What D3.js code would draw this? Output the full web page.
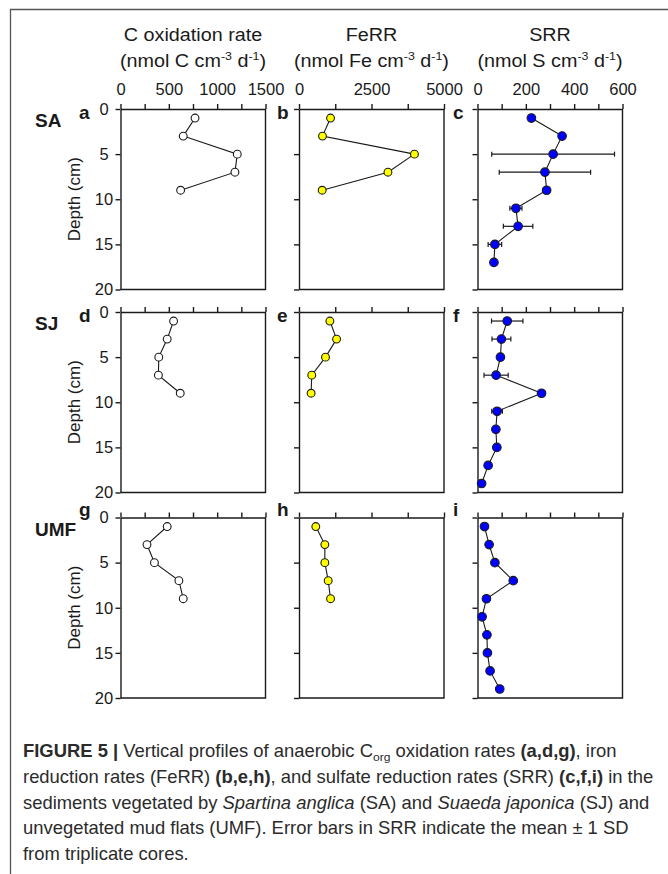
<!DOCTYPE html>
<html>
<head>
<meta charset="utf-8">
<script src="https://cdn.jsdelivr.net/npm/d3@7"></script>
<style>
  html, body { margin: 0; padding: 0; background: #fff; }
  svg { display: block; font-family: "Liberation Sans", Arial, sans-serif; }
</style>
</head>
<body>
<div id="chart"></div>
<script>
(function () {
    'use strict';

    // depths (cm)
    var depthShort = [1, 3, 5, 7, 9];
    var depthSA = [1, 3, 5, 7, 9, 11, 13, 15, 17];
    var depthLong = [1, 3, 5, 7, 9, 11, 13, 15, 17, 19];

    // C oxidation rate
    var coxSA = [771, 649, 1208, 1184, 622];
    var coxSJ = [549, 483, 396, 392, 618];
    var coxUMF = [483, 274, 351, 604, 649];

    // FeRR
    var ferrSA = [1088, 810, 3981, 3067, 799];
    var ferrSJ = [1065, 1296, 914, 440, 417];
    var ferrUMF = [579, 891, 891, 1007, 1088];

    // SRR and its SD
    var srrSA = [223, 350, 313, 279, 286, 159, 168, 72, 68];
    var srrSAsd = [4, 4, 254, 189, 4, 25, 61, 28, 3];
    var srrSJ = [123, 99, 95, 77, 265, 81, 76, 80, 44, 17];
    var srrSJsd = [65, 39, 8, 50, 3, 22, 5, 8, 4, 3];
    var srrUMF = [29, 48, 72, 148, 37, 19, 39, 41, 52, 92];
    var srrUMFsd = [10, 5, 5, 4, 5, 4, 5, 5, 5, 5];

    var sites = ['SA', 'SJ', 'UMF'];
    var letters = [['a', 'b', 'c'], ['d', 'e', 'f'], ['g', 'h', 'i']];
    var colTitles = ['C oxidation rate', 'FeRR', 'SRR'];
    var colUnits = ['C', 'Fe', 'S'];
    var colMax = [1500, 5000, 600];
    var colTicks = [[0, 250, 500, 750, 1000, 1250, 1500], [0, 1250, 2500, 3750, 5000], [0, 100, 200, 300, 400, 500, 600]];
    var colLabels = [[0, 500, 1000, 1500], [0, 2500, 5000], [0, 200, 400, 600]];
    var colFill = ['#ffffff', '#ffff00', '#0000ff'];
    var depthTicks = [0, 5, 10, 15, 20];

    var panels = [
        [{ d: depthShort, v: coxSA }, { d: depthShort, v: ferrSA }, { d: depthSA, v: srrSA, sd: srrSAsd }],
        [{ d: depthShort, v: coxSJ }, { d: depthShort, v: ferrSJ }, { d: depthLong, v: srrSJ, sd: srrSJsd }],
        [{ d: depthShort, v: coxUMF }, { d: depthShort, v: ferrUMF }, { d: depthLong, v: srrUMF, sd: srrUMFsd }]
    ];

    var W = 668, H = 874;
    var colX = [120.5, 299, 477.5];
    var rowY = [109, 312, 517.5];
    var pw = 145, ph = 180.5;
    var ink = '#1a1a1a';

    var svg = d3.select('#chart').append('svg')
        .attr('width', W).attr('height', H);

    // outer frame
    svg.append('path')
        .attr('d', 'M10.5,' + H + ' V9.5 H' + W)
        .attr('fill', 'none').attr('stroke', '#555').attr('stroke-width', 1.3);

    // column headers (source font is wider, stretch a little)
    colTitles.forEach(function (t, c) {
        var cx = colX[c] + pw / 2;
        svg.append('text')
            .attr('transform', 'translate(' + cx + ',41) scale(1.13,1)')
            .attr('text-anchor', 'middle').attr('font-size', 17.5).attr('fill', ink)
            .text(t);
        var u = svg.append('text')
            .attr('transform', 'translate(' + cx + ',67) scale(1.13,1)')
            .attr('text-anchor', 'middle').attr('font-size', 17.5).attr('fill', ink);
        u.append('tspan').text('(nmol ' + colUnits[c] + ' cm');
        u.append('tspan').attr('font-size', 11).attr('dy', -7).text('-3');
        u.append('tspan').attr('dy', 7).text(' d');
        u.append('tspan').attr('font-size', 11).attr('dy', -7).text('-1');
        u.append('tspan').attr('dy', 7).text(')');
    });

    var y = d3.scaleLinear().domain([0, 20]);

    panels.forEach(function (row, r) {
        y.range([rowY[r], rowY[r] + ph]);

        // site label
        svg.append('text').attr('x', 35).attr('y', rowY[r] + 18)
            .attr('font-size', 19).attr('font-weight', 'bold').attr('fill', ink)
            .text(sites[r]);

        // depth title
        svg.append('text')
            .attr('transform', 'translate(80,' + (rowY[r] + ph / 2) + ') rotate(-90)')
            .attr('text-anchor', 'middle').attr('font-size', 17).attr('fill', ink)
            .text('Depth (cm)');

        row.forEach(function (p, c) {
            var x = d3.scaleLinear().domain([0, colMax[c]]).range([colX[c], colX[c] + pw]);
            var g = svg.append('g');

            // panel letter
            svg.append('text')
                .attr('x', c === 0 ? 79 : (c === 1 ? 277 : 453))
                .attr('y', r === 2 ? rowY[r] - 2 : rowY[r] + 10)
                .attr('font-size', 19).attr('font-weight', 'bold').attr('fill', ink)
                .text(letters[r][c]);

            // box right / bottom
            g.append('path')
                .attr('d', 'M' + x.range()[1] + ',' + y.range()[0] + ' V' + y.range()[1] + ' H' + x.range()[0])
                .attr('fill', 'none').attr('stroke', ink).attr('stroke-width', 1.4);

            var xa = d3.axisTop(x).tickValues(colTicks[c]).tickSize(5).tickSizeOuter(0).tickPadding(9)
                .tickFormat(function (d) { return (r === 0 && colLabels[c].indexOf(d) >= 0) ? d : ''; });
            var ga = g.append('g').attr('transform', 'translate(0,' + y.range()[0] + ')').call(xa);

            var ya = d3.axisLeft(y).tickValues(depthTicks).tickSize(5).tickSizeOuter(0)
                .tickFormat(function (d) { return c === 0 ? d : ''; });
            var gy = g.append('g').attr('transform', 'translate(' + x.range()[0] + ',0)').call(ya);

            [ga, gy].forEach(function (a) {
                a.attr('font-family', null).attr('font-size', 16.5);
                a.selectAll('path, line').attr('stroke', ink).attr('stroke-width', 1.4);
                a.selectAll('text').attr('fill', ink);
            });
            gy.selectAll('text').attr('text-anchor', 'middle').attr('x', -16.5);

            var pts = p.v.map(function (v, i) { return { v: v, d: p.d[i], sd: p.sd ? p.sd[i] : 0 }; });

            // error bars
            if (p.sd) {
                var eb = g.append('g').attr('stroke', ink).attr('stroke-width', 1.2);
                pts.forEach(function (q) {
                    if (!q.sd) return;
                    var x1 = x(q.v - q.sd), x2 = x(q.v + q.sd), yy = y(q.d);
                    eb.append('line').attr('x1', x1).attr('x2', x2).attr('y1', yy).attr('y2', yy);
                    eb.append('line').attr('x1', x1).attr('x2', x1).attr('y1', yy - 2.5).attr('y2', yy + 2.5);
                    eb.append('line').attr('x1', x2).attr('x2', x2).attr('y1', yy - 2.5).attr('y2', yy + 2.5);
                });
            }

            var line = d3.line().x(function (q) { return x(q.v); }).y(function (q) { return y(q.d); });
            g.append('path').datum(pts).attr('d', line)
                .attr('fill', 'none').attr('stroke', ink).attr('stroke-width', 1.1);

            g.selectAll('circle').data(pts).enter().append('circle')
                .attr('cx', function (q) { return x(q.v); })
                .attr('cy', function (q) { return y(q.d); })
                .attr('r', c === 2 ? 4.3 : 3.9)
                .attr('fill', colFill[c])
                .attr('stroke', ink).attr('stroke-width', 1.1);
        });
    });

    // caption
    var capLines = [
        [['FIGURE 5 |', 'b'], [' Vertical profiles of anaerobic C', ''], ['org', 'sub'], [' oxidation rates ', ''], ['(a,d,g)', 'b'], [', iron', '']],
        [['reduction rates (FeRR) ', ''], ['(b,e,h)', 'b'], [', and sulfate reduction rates (SRR) ', ''], ['(c,f,i)', 'b'], [' in the', '']],
        [['sediments vegetated by ', ''], ['Spartina anglica', 'i'], [' (SA) and ', ''], ['Suaeda japonica', 'i'], [' (SJ) and', '']],
        [['unvegetated mud flats (UMF). Error bars in SRR indicate the mean \u00b1 1 SD', '']],
        [['from triplicate cores.', '']]
    ];
    var capBase = [757, 783, 808.5, 834, 859.5];
    var capText = [];
    capLines.forEach(function (parts) {
        var t = svg.append('text').attr('font-size', 17.5).attr('fill', '#2b2b2b');
        var sub = false;
        parts.forEach(function (pt) {
            var s = t.append('tspan').text(pt[0]);
            if (pt[1] === 'b') s.attr('font-weight', 'bold');
            if (pt[1] === 'i') s.attr('font-style', 'italic');
            if (pt[1] === 'sub') { s.attr('font-size', 11.5).attr('dy', 4); sub = true; }
            else if (sub) { s.attr('dy', -4); sub = false; }
        });
        capText.push(t);
    });
    var k = 594 / capText[0].node().getComputedTextLength();
    capText.forEach(function (t, i) {
        t.attr('transform', 'translate(23,' + capBase[i] + ') scale(' + k + ',1)');
    });
}());
</script>
</body>
</html>
